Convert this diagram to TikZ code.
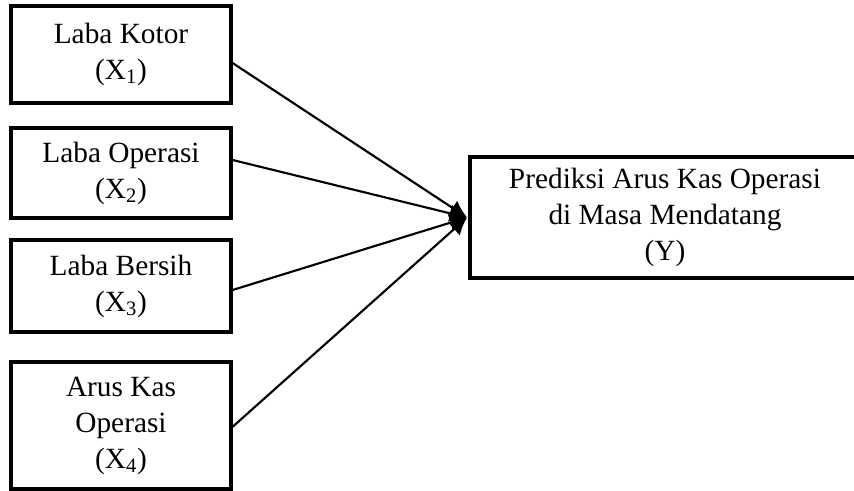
\documentclass[tikz,border=0pt]{standalone}
\usepackage{fontspec}
\setmainfont{Liberation Serif}
\usetikzlibrary{arrows.meta}
\tikzset{
  varbox/.style={draw, line width=2.4pt, align=center, inner sep=0pt,
    font=\fontsize{22}{27}\selectfont},
  link/.style={line width=1.6pt, -{Latex[length=13pt,width=13pt]}}
}
\begin{document}
\begin{tikzpicture}[x=0.75pt,y=-0.75pt]
\useasboundingbox (0,0) rectangle (854,491);
\clip (0,0) rectangle (854,491);
\node[varbox, minimum width=165pt, minimum height=72.75pt] (b1) at (121,54.5) {Laba Kotor\\(X\textsubscript{1})};
\node[varbox, minimum width=165pt, minimum height=67.5pt] (b2) at (121,173) {Laba Operasi\\(X\textsubscript{2})};
\node[varbox, minimum width=165pt, minimum height=69pt] (b3) at (121,286) {Laba Bersih\\(X\textsubscript{3})};
\node[varbox, minimum width=165pt, minimum height=95.25pt] (b4) at (121,425.5) {Arus Kas\\Operasi\\(X\textsubscript{4})};
\node[varbox, minimum width=292.5pt, minimum height=90.75pt] (y) at (665,217.5) {Prediksi Arus Kas Operasi\\di Masa Mendatang\\(Y)};
\draw[link] ([yshift=-6.4pt]b1.east) -- ([xshift=-1pt]y.west);
\draw[link] ([yshift=9.75pt]b2.east) -- ([xshift=-1pt]y.west);
\draw[link] ([yshift=-3pt]b3.east) -- ([xshift=-1pt]y.west);
\draw[link] ([yshift=-1pt]b4.east) -- ([xshift=-1pt]y.west);
\end{tikzpicture}
\end{document}
